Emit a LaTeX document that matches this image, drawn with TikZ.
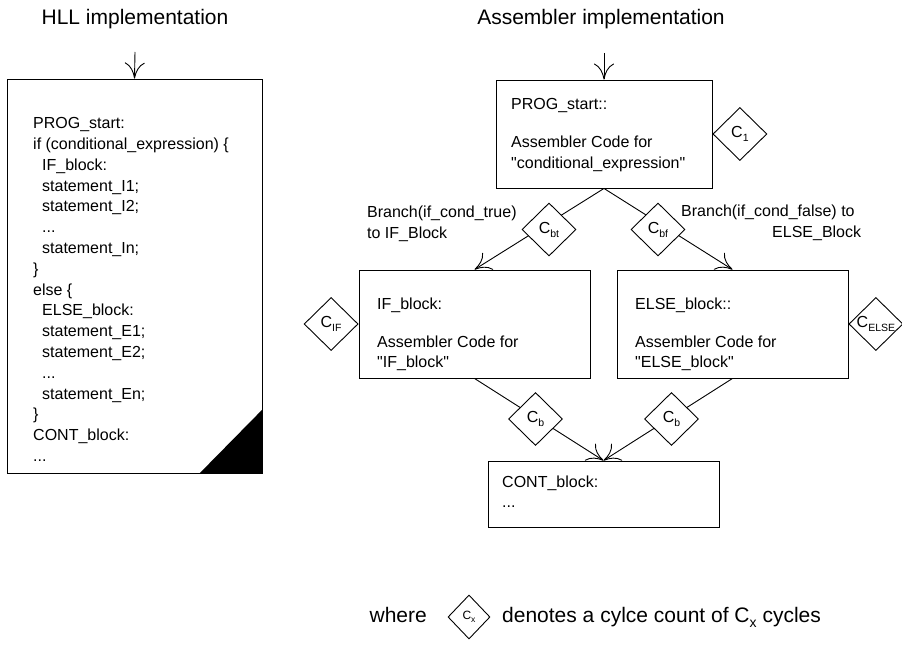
\documentclass[tikz,border=0pt]{standalone}
\usepackage{fontspec}
\setmainfont{Liberation Sans}
\usepackage{tikz}
\usetikzlibrary{arrows.meta,shapes.geometric,positioning}
\newcommand{\lowsub}[1]{\raisebox{-4pt}{\fontsize{10.5}{10.5}\selectfont #1}}
\tikzstyle{blk}=[draw=black, line width=0.9pt, fill=white, inner sep=0pt]
\tikzstyle{cyc}=[diamond, draw=black, line width=0.9pt, fill=white, inner sep=0pt,
                 minimum width=54pt, minimum height=53pt, font=\fontsize{16}{18}\selectfont]
\tikzstyle{txt}=[inner sep=0pt, align=left, font=\fontsize{16}{20.8}\selectfont]
\tikzstyle{ttl}=[inner sep=0pt, font=\fontsize{21}{25}\selectfont]
\tikzstyle{flow}=[line width=0.9pt, -{Computer Modern Rightarrow[length=16pt,width=20pt]}]

\begin{document}
\begin{tikzpicture}[x=1pt, y=-1pt]
\path[use as bounding box] (0,0) rectangle (902,647);
\node[ttl, anchor=base] (thll) at (135,25) {HLL implementation};
\node[ttl, anchor=base] (tasm) at (601,25) {Assembler implementation};
% HLL side
\node[blk, minimum width=255pt, minimum height=394pt] (hll) at (134.5,276) {};
\fill (hll.south east) -- ([xshift=-63pt]hll.south east) -- ([yshift=64pt]hll.south east) -- cycle;
\node[txt, anchor=north west] (code) at (33,117.3) {PROG\_start:\\
if (conditional\_expression) \{\\
\hspace*{9pt}IF\_block:\\
\hspace*{9pt}statement\_I1;\\
\hspace*{9pt}statement\_I2;\\
\hspace*{9pt}...\\
\hspace*{9pt}statement\_In;\\
\}\\
else \{\\
\hspace*{9pt}ELSE\_block:\\
\hspace*{9pt}statement\_E1;\\
\hspace*{9pt}statement\_E2;\\
\hspace*{9pt}...\\
\hspace*{9pt}statement\_En;\\
\}\\
CONT\_block:\\
...};
\coordinate (hllin) at (135,52);
\draw[flow] (hllin) -- (hll.north);
% assembler side
\node[blk, minimum width=216pt, minimum height=108pt] (prog) at (604,134) {};
\node[blk, minimum width=231pt, minimum height=108pt] (ifb) at (474.5,324) {};
\node[blk, minimum width=231pt, minimum height=108pt] (elseb) at (732.5,324) {};
\node[blk, minimum width=231pt, minimum height=66pt] (cont) at (603.5,494) {};
\node[txt, anchor=north west] (tprog) at (511,98.5) {PROG\_start::\\[17pt]Assembler Code for\\\textquotedbl conditional\_expression\textquotedbl};
\node[txt, anchor=north west] (tif) at (377,297.5) {IF\_block:\\[17pt]Assembler Code for\\\textquotedbl IF\_block\textquotedbl};
\node[txt, anchor=north west] (telse) at (635,297.5) {ELSE\_block::\\[17pt]Assembler Code for\\\textquotedbl ELSE\_block\textquotedbl};
\node[txt, anchor=north west] (tcont) at (502,475.3) {CONT\_block:\\...};
\node[txt, anchor=north west] (lbt) at (367,206) {Branch(if\_cond\_true)\\to IF\_Block};
\node[txt, anchor=north west] (lbf) at (681,205) {Branch(if\_cond\_false) to\\\hspace*{91pt}ELSE\_Block};
\coordinate (progin) at (604,53);
\draw[flow] (progin) -- (prog.north);
\draw[flow] (prog.south) -- (ifb.north);
\draw[flow] (prog.south) -- (elseb.north);
\draw[flow] (ifb.south) -- (cont.north);
\draw[flow] (elseb.south) -- (cont.north);
% cycle counts
\node[cyc, anchor=west] (c1) at (prog.east) {\makebox[0pt]{C\lowsub{1}}};
\node[cyc] (cbt) at (549,229.5) {\makebox[0pt]{C\lowsub{bt}}};
\node[cyc] (cbf) at (658,229.5) {\makebox[0pt]{C\lowsub{bf}}};
\node[cyc, anchor=east] (cif) at (ifb.west) {\makebox[0pt]{C\lowsub{IF}}};
\node[cyc, anchor=west] (celse) at (elseb.east) {\makebox[0pt]{C\lowsub{ELSE}}};
\node[cyc] (cb1) at (535.5,419) {\makebox[0pt]{C\lowsub{b}}};
\node[cyc] (cb2) at (671.5,419) {\makebox[0pt]{C\lowsub{b}}};
% legend
\node[ttl, anchor=base east] (lwhere) at (427,622) {where};
\node[cyc, minimum width=42pt, minimum height=44pt, font=\fontsize{12}{14}\selectfont] (lgd) at (469,617) {\makebox[0pt]{C\raisebox{-3pt}{\fontsize{8.5}{8.5}\selectfont x}}};
\node[ttl, anchor=base west] (lnote) at (502,622) {denotes a cylce count of C\raisebox{-5pt}{\fontsize{14}{14}\selectfont x} cycles};
\end{tikzpicture}
\end{document}
